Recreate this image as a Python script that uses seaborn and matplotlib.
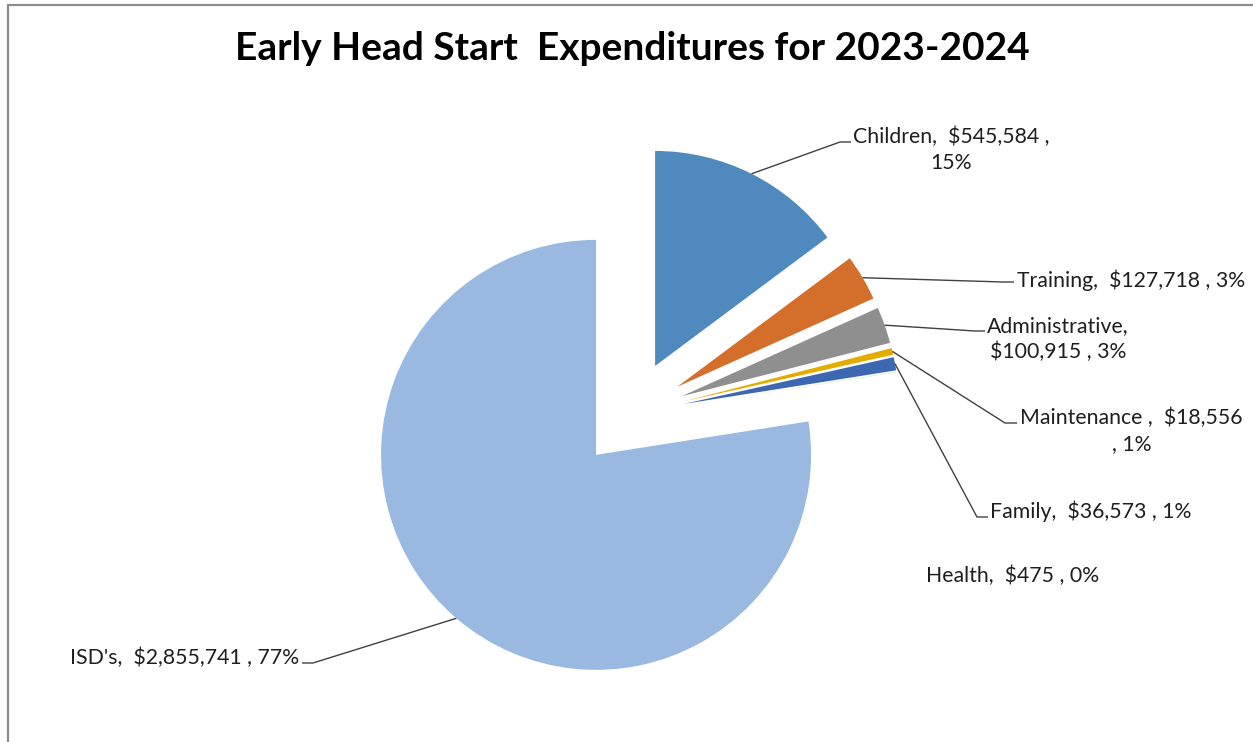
import matplotlib
matplotlib.use("Agg")
import matplotlib.pyplot as plt
import seaborn as sns
import numpy as np

# ---------------- data ----------------
categories = ["Children", "Training", "Administrative", "Maintenance ", "Family", "Health", "ISD's"]
amounts = [545584, 127718, 100915, 18556, 36573, 475, 2855741]
amount_labels = ["$545,584", "$127,718", "$100,915", "$18,556", "$36,573", "$475", "$2,855,741"]
percent_labels = ["15%", "3%", "3%", "1%", "1%", "0%", "77%"]
slice_colors = ["#4F89BE", "#D46E2B", "#8F8F8F", "#E5AC00", "#3D67B1", "#6FA046", "#99B9E0"]
title_text = "Early Head Start  Expenditures for 2023-2024"

# ---------------- style ----------------
sns.set_style("white")
plt.rcParams['font.family'] = ['Lato', 'DejaVu Sans']

W, H = 1253, 742
fig = plt.figure(figsize=(W / 100, H / 100), dpi=100)
ax = fig.add_axes([0, 0, 1, 1])

palette = sns.color_palette(slice_colors)
R = 215
wedges, _ = ax.pie(amounts, colors=palette, startangle=90, counterclock=False,
                   explode=[0.25 * R] * len(amounts), radius=R,
                   center=(631, H - 414), wedgeprops=dict(linewidth=0))
ax.set_xlim(0, W)
ax.set_ylim(0, H)
ax.set_aspect('auto')
ax.axis('off')

# label texts (Excel style: name, value, percent)
def build(i):
    return f"{categories[i]},  {amount_labels[i]} , {percent_labels[i]}"

texts = [build(i) for i in range(len(categories))]
texts[0] = f"{categories[0]},  {amount_labels[0]} ,\n{percent_labels[0]}"
texts[2] = f"{categories[2]},\n{amount_labels[2]} , {percent_labels[2]}"
texts[3] = f"{categories[3]},  {amount_labels[3]}\n, {percent_labels[3]}"

# label layout in pixel coords (x, y from top): elbow, line end, text anchor, ha
layout = {
    0: ((840, 142), (851, 142), (853, 150), 'left'),
    1: ((1003, 282), (1014, 282), (1017, 280), 'left'),
    2: ((975, 331), (985, 331), (987, 339), 'left'),
    3: ((1005, 423), (1017, 423), (1020, 431), 'left'),
    4: ((977, 517), (988, 517), (990, 511), 'left'),
    5: (None, None, (926, 576), 'left'),
    6: ((313, 663), (302, 663), (299, 658), 'right'),
}

for i, w in enumerate(wedges):
    elbow, end, txy, ha = layout[i]
    if elbow is not None:
        tm = np.deg2rad((w.theta1 + w.theta2) / 2)
        cx, cy = w.center
        sx, sy = cx + w.r * np.cos(tm), cy + w.r * np.sin(tm)
        ax.plot([sx, elbow[0], end[0]], [sy, H - elbow[1], H - end[1]],
                color="#404040", lw=1.0, solid_capstyle='butt')
    ax.text(txy[0], H - txy[1], texts[i], ha=ha, va='center', multialignment='center',
            fontsize=15.3, color="#1f1f1f", linespacing=1.36)

ax.text(632, H - 48, title_text, ha='center', va='center', fontsize=28,
        fontweight='bold', color='black')

# chart frame (top and left edges visible)
ax.plot([8, 8], [H - 5, 0], color="#8c8c8c", lw=1.6)
ax.plot([8, W], [H - 5, H - 5], color="#8c8c8c", lw=1.6)

fig.savefig("out.png", dpi=100)
